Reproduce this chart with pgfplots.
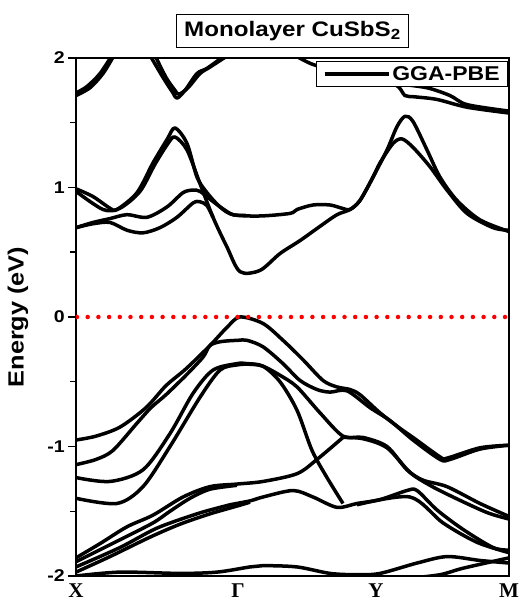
\documentclass[border=0pt]{standalone}
\usepackage{fontspec}
\usepackage{pgfplots}
\pgfplotsset{compat=1.18}
\newfontfamily\lsans[FakeStretch=1.15]{Liberation Sans}
\newfontfamily\lserif{Liberation Serif}

\begin{document}
\begin{tikzpicture}
\useasboundingbox (-76pt,-27pt) rectangle (443pt,576pt);
\begin{axis}[
    at={(0,0)}, anchor=south west,
    scale only axis, width=433pt, height=518pt,
    xmin=0, xmax=433, ymin=-2, ymax=2,
    axis line style={line width=1.5pt},
    xtick={0,162,300,433},
    xticklabels={X,Γ,Y,M},
    x tick style={draw=none},
    xticklabel style={font=\lserif\bfseries\fontsize{21}{21}\selectfont, anchor=north, inner sep=0pt, yshift=0pt},
    ytick={-2,-1,0,1,2},
    yticklabels={-2,-1,0,1,2},
    minor ytick={-1.5,-0.5,0.5,1.5},
    ytick pos=left, tick align=outside,
    major tick length=8pt, minor tick length=6pt,
    y tick style={line width=1.5pt, black},
    yticklabel style={font=\lsans\bfseries\fontsize{17}{17}\selectfont, anchor=east, inner sep=0pt, xshift=-3pt},
    ylabel={Energy (eV)},
    every axis y label/.style={at={(axis description cs:-0.134,0.5)}, rotate=90, anchor=center,
                               font=\lsans\bfseries\fontsize{22}{22}\selectfont},
    legend style={at={(0.998,0.995)}, anchor=north east, draw=black, line width=1pt,
                  fill=white, font=\lsans\bfseries\fontsize{20}{20}\selectfont,
                  inner xsep=6pt, inner ysep=3pt,
                  nodes={inner sep=2pt}},
    legend image code/.code={\draw[line width=3.5pt] (0pt,0pt) -- (64pt,0pt);},
    band/.style={black, line width=3.5pt, smooth, tension=0.5, line join=round, forget plot},
  ]
\addlegendimage{black, line width=3.5pt}
\addlegendentry{GGA-PBE}

% conduction bands
\addplot[band] coordinates {(0,0.99) (17,0.93) (34,0.84) (41,0.83) (61,0.96) (77,1.19) (91,1.37) (99,1.46) (111,1.34) (121,1.08) (131,0.96) (144,0.85) (157,0.79) (184,0.78) (214,0.80) (221,0.83) (237,0.865) (254,0.865) (266,0.84) (274,0.83) (284,0.90) (297,1.08) (304,1.19) (317,1.34) (326,1.375) (337,1.31) (354,1.16) (371,0.98) (391,0.80) (417,0.69) (433,0.67)};
\addplot[band] coordinates {(0,0.97) (27,0.83) (44,0.84) (64,0.97) (79,1.18) (92,1.34) (99,1.39) (111,1.29) (124,1.03) (137,0.77) (151,0.54) (164,0.35) (184,0.36) (204,0.49) (224,0.59) (244,0.70) (261,0.79) (274,0.83) (284,0.90) (297,1.08) (311,1.29) (321,1.47) (329,1.55) (337,1.51) (351,1.29) (364,1.08) (381,0.90) (404,0.75) (433,0.66)};
\addplot[band] coordinates {(0,0.69) (17,0.73) (34,0.76) (51,0.79) (71,0.77) (91,0.85) (107,0.96) (117,0.98) (124,0.97) (134,0.91) (146,0.84) (157,0.79) (170,0.785)};
\addplot[band] coordinates {(0,0.69) (17,0.72) (34,0.73) (51,0.67) (67,0.65) (84,0.69) (101,0.77) (117,0.88) (124,0.89) (131,0.86) (137,0.77)};
\addplot[band] coordinates {(0,1.73) (11,1.78) (24,1.88) (36,2.02)};
\addplot[band] coordinates {(0,1.71) (14,1.77) (27,1.88) (38,2.02)};
\addplot[band] coordinates {(74,2.02) (87,1.85) (97,1.73) (101,1.69) (109,1.75) (121,1.88) (131,1.92) (149,2.02)};
\addplot[band] coordinates {(79,2.02) (90,1.85) (99,1.75) (103,1.72) (112,1.77) (124,1.88) (134,1.93) (152,2.02)};
\addplot[band] coordinates {(219,2.02) (237,1.95) (264,1.90) (304,1.85) (322,1.78) (329,1.71) (339,1.70) (361,1.68) (391,1.62) (433,1.575)};
\addplot[band] coordinates {(322,1.80) (351,1.77) (374,1.71) (391,1.64) (433,1.59)};

% valence bands
\addplot[band] coordinates {(0,-0.95) (20,-0.92) (44,-0.85) (70,-0.70) (90,-0.53) (110,-0.40) (134,-0.22) (151,-0.08) (164,0.0) (187,-0.05) (207,-0.18) (227,-0.33) (247,-0.49) (261,-0.54) (274,-0.56) (284,-0.60) (304,-0.74) (324,-0.86) (337,-0.93) (364,-1.08) (371,-1.09) (404,-1.01) (433,-0.99)};
\addplot[band] coordinates {(0,-1.14) (20,-1.10) (37,-1.03) (61,-0.82) (75,-0.70) (90,-0.60) (110,-0.45) (127,-0.31) (134,-0.22) (145,-0.19) (162,-0.18) (171,-0.18) (187,-0.23) (207,-0.36) (224,-0.49) (241,-0.56) (254,-0.58) (271,-0.57) (294,-0.70) (314,-0.80) (337,-0.95) (364,-1.10) (374,-1.10) (404,-1.02) (433,-0.99)};
\addplot[band] coordinates {(0,-1.24) (34,-1.27) (67,-1.18) (94,-0.90) (117,-0.59) (137,-0.41) (161,-0.36) (171,-0.36) (187,-0.38) (204,-0.50) (221,-0.72) (236,-1.03) (251,-1.24) (267,-1.44)};
\addplot[band] coordinates {(0,-1.40) (41,-1.44) (67,-1.31) (94,-1.00) (124,-0.62) (144,-0.41) (161,-0.37) (174,-0.365) (187,-0.38) (204,-0.45) (221,-0.54) (244,-0.74) (267,-0.92) (287,-0.93) (311,-1.00) (331,-1.18) (347,-1.26) (371,-1.31) (404,-1.44) (433,-1.54)};
\addplot[band] coordinates {(267,-0.93) (287,-0.94) (311,-1.01) (334,-1.20) (354,-1.30) (377,-1.39) (411,-1.51) (433,-1.56)};
\addplot[band] coordinates {(0,-1.86) (24,-1.75) (51,-1.62) (77,-1.53) (107,-1.39) (134,-1.31) (161,-1.29) (187,-1.27) (221,-1.21) (241,-1.10) (267,-0.93)};
\addplot[band] coordinates {(0,-1.89) (44,-1.72) (77,-1.59) (94,-1.50) (114,-1.40) (134,-1.33) (161,-1.30)};
\addplot[band] coordinates {(0,-1.93) (44,-1.78) (81,-1.63) (121,-1.52) (144,-1.47) (154,-1.45) (174,-1.42) (187,-1.39) (217,-1.34) (237,-1.39) (261,-1.47) (281,-1.44) (304,-1.41) (331,-1.34) (341,-1.34) (361,-1.49) (387,-1.64) (417,-1.78) (433,-1.80)};
\addplot[band] coordinates {(0,-1.97) (34,-1.85) (74,-1.70) (104,-1.60) (134,-1.52) (161,-1.46) (174,-1.43)};
\addplot[band] coordinates {(281,-1.45) (334,-1.39) (367,-1.59) (401,-1.74) (433,-1.82)};
\addplot[band] coordinates {(0,-2.0) (44,-1.97) (104,-1.98) (141,-1.97) (174,-1.93) (187,-1.92) (221,-1.93) (254,-1.98) (281,-1.99) (304,-1.98) (341,-1.90) (371,-1.85) (404,-1.88) (433,-1.90)};
\addplot[band] coordinates {(331,-2.02) (364,-1.99) (387,-1.94) (433,-1.86)};

% Fermi level
\addplot[red, line width=4.5pt, line cap=round, dash pattern=on 0pt off 10.7pt, forget plot] coordinates {(1,0) (433,0)};
\end{axis}
\node[draw, line width=1pt, fill=white, inner xsep=8pt, inner ysep=7pt,
      font=\lsans\bfseries\fontsize{21}{21}\selectfont]
  at (216.5pt,545pt) {Monolayer CuSbS\textsubscript{2}};
\end{tikzpicture}
\end{document}
